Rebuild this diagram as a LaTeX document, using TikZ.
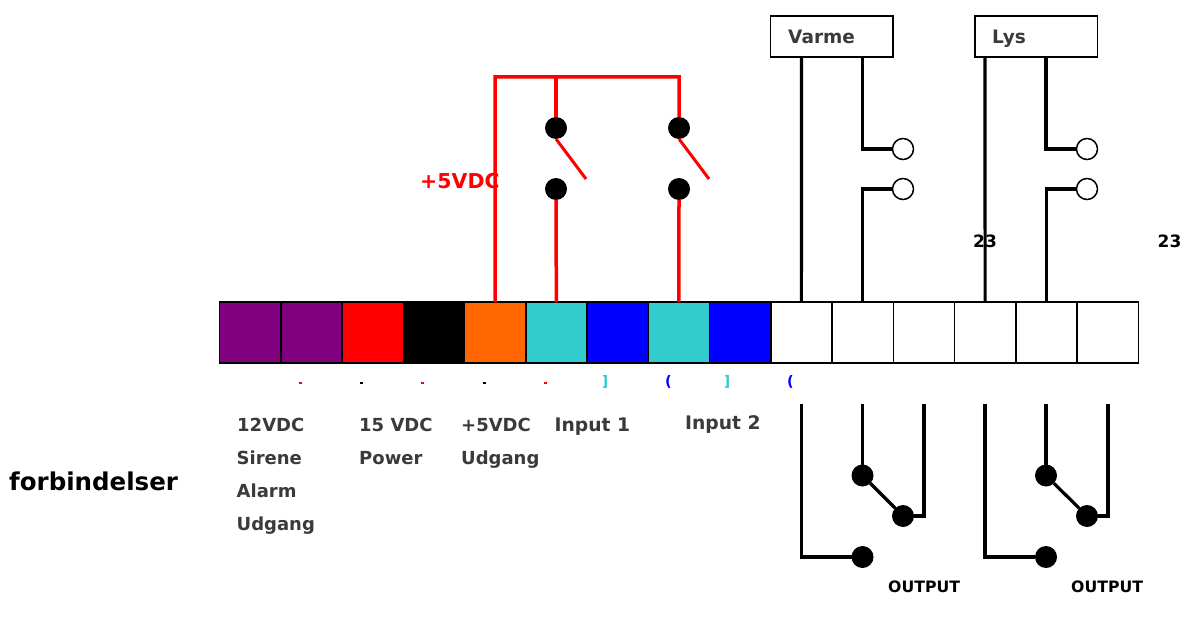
\documentclass[tikz,border=0pt]{standalone}
\usepackage{fontspec}
\setmainfont{DejaVu Sans}
\definecolor{cpurple}{HTML}{800080}
\definecolor{cteal}{HTML}{33CCCC}
\definecolor{corange}{HTML}{FF6600}
\definecolor{gtext}{HTML}{3A3A3A}
\tikzset{
  cell/.style={draw=black,line width=1.5pt,minimum width=61.25pt,minimum height=61pt,inner sep=0pt,outer sep=0pt,anchor=west},
  lab/.style={anchor=base west,inner sep=0pt,font=\fontsize{18}{18}\selectfont\bfseries,text=gtext},
  blk/.style={anchor=base west,inner sep=0pt,text=black,font=\fontsize{16}{16}\selectfont\bfseries},
  relaybox/.style={draw=black,line width=1.5pt,fill=white,minimum width=122.5pt,minimum height=41pt,inner sep=0pt,outer sep=0pt},
  blackdot/.style={circle,fill=black,minimum size=22pt,inner sep=0pt,outer sep=0pt},
  opendot/.style={circle,draw=black,line width=1.5pt,fill=white,minimum size=21pt,inner sep=0pt,outer sep=0pt},
  redwire/.style={draw=red,line width=3.5pt,line join=miter},
  blackwire/.style={draw=black,line width=3.2pt,line join=miter},
  tick/.style={anchor=center,inner sep=0pt,font=\fontsize{14.5}{14.5}\selectfont\bfseries}
}
\begin{document}
\begin{tikzpicture}[x=1pt,y=-1pt]
\useasboundingbox (0,0) rectangle (1194,623);
% terminal strip
\foreach \n/\c [count=\i from 0] in {c1/cpurple,c2/cpurple,c3/red,c4/black,c5/corange,c6/cteal,c7/blue,c8/cteal,c9/blue,c10/white,c11/white,c12/white,c13/white,c14/white,c15/white}
  \node[cell,fill=\c] (\n) at ({219.5+61.25*\i},332.5) {};
% relay boxes
\node[relaybox] (varme) at (831.75,36.5) {};
\node[relaybox] (lys) at (1036,36.75) {};
\node[lab,font=\fontsize{18.5}{18.5}\selectfont\bfseries] (tv) at (788,44) {Varme};
\node[lab,font=\fontsize{18.5}{18.5}\selectfont\bfseries] (tl) at (992,44) {Lys};
% coordinates
\coordinate (top) at (495,77);
\coordinate (topa) at (556,77);
\coordinate (topb) at (679,77);
\coordinate (arma) at (586,179);
\coordinate (armb) at (709,179);
\coordinate (w10) at (801.5,404);
\coordinate (w11) at (862.5,404);
\coordinate (w12) at (924,404);
\coordinate (w13) at (985,404);
\coordinate (w14) at (1046,404);
\coordinate (w15) at (1108,404);
% dots
\node[blackdot] (ra1) at (556,128) {};
\node[blackdot] (ra2) at (556,189) {};
\node[blackdot] (rb1) at (679,128) {};
\node[blackdot] (rb2) at (679,189) {};
\node[blackdot] (v1) at (862.5,475.5) {};
\node[blackdot] (v2) at (903,516) {};
\node[blackdot] (v3) at (862.5,557) {};
\node[blackdot] (l1) at (1046,475.5) {};
\node[blackdot] (l2) at (1087,516) {};
\node[blackdot] (l3) at (1046,557) {};
% red wires
\draw[redwire] (c5.north) -- (top) -- (topb) -- (rb1.north);
\draw[redwire] (topa) -- (ra1.north);
\draw[redwire] (ra2.south) -- (c6.north);
\draw[redwire] (rb2.south) -- (c8.north);
\draw[draw=red,line width=3pt] (ra1.south) -- (arma);
\draw[draw=red,line width=3pt] (rb1.south) -- (armb);
% relay wires
\draw[blackwire] (801.5,57) -- (c10.north);
\draw[blackwire] (985,57) -- (c13.north);
\node[opendot] (ov1) at (903,149) {};
\node[opendot] (ov2) at (903,189) {};
\node[opendot] (ol1) at (1087,149) {};
\node[opendot] (ol2) at (1087,189) {};
\draw[blackwire] (862.5,57) |- (ov1.west);
\draw[blackwire] (c11.north) |- (ov2.west);
\draw[blackwire] (1046,57) |- (ol1.west);
\draw[blackwire] (c14.north) |- (ol2.west);
% lower contacts
\draw[blackwire] (w10) |- (v3.west);
\draw[blackwire] (w11) -- (v1.north);
\draw[blackwire] (v1) -- (v2);
\draw[blackwire] (w12) |- (v2.east);
\draw[blackwire] (w13) |- (l3.west);
\draw[blackwire] (w14) -- (l1.north);
\draw[blackwire] (l1) -- (l2);
\draw[blackwire] (w15) |- (l2.east);
% labels
\node[lab] (a1) at (237,431) {12VDC};
\node[lab] (a2) at (236.5,464) {Sirene};
\node[lab] (a3) at (236.5,497) {Alarm};
\node[lab] (a4) at (236.5,530) {Udgang};
\node[lab] (b1) at (359,431) {15 VDC};
\node[lab] (b2) at (359,464) {Power};
\node[lab] (d1) at (461,431) {+5VDC};
\node[lab] (d2) at (461,464) {Udgang};
\node[lab,font=\fontsize{18.7}{18.7}\selectfont\bfseries] (e1) at (554.5,431) {Input 1};
\node[lab,font=\fontsize{18.7}{18.7}\selectfont\bfseries] (e2) at (685,429) {Input 2};
\node[anchor=base west,inner sep=0pt,text=black,font=\fontsize{24.5}{24.5}\selectfont\bfseries] (f) at (9,490) {forbindelser};
\node[anchor=base west,inner sep=0pt,text=red,font=\fontsize{20.5}{20.5}\selectfont\bfseries] (p) at (420,188.5) {+5VDC};
\node[blk,font=\fontsize{15.7}{15.7}\selectfont\bfseries] (o1) at (888,592) {OUTPUT};
\node[blk,font=\fontsize{15.7}{15.7}\selectfont\bfseries] (o2) at (1071,592) {OUTPUT};
\node[blk,font=\fontsize{17}{17}\selectfont\bfseries] (n1) at (973,247) {23};
\begin{scope}
\clip (1140,230) rectangle (1180,255);
\node[blk,font=\fontsize{17}{17}\selectfont\bfseries] (n2) at (1157.5,247) {23};
\end{scope}
% tiny clipped marks
\foreach \x/\c/\t in {300/red/t1,361/black/t2,422/red/t3,484/black/t4,545/red/t5}
  \fill[\c] (\x-1.5,381.5) rectangle (\x+1.5,384);
\begin{scope}
\clip (603,375) rectangle (608,389);
\node[tick,text=cteal] (k1) at (605,382) {]};
\end{scope}
\begin{scope}
\clip (665,375) rectangle (670,389);
\node[tick,text=blue] (k2) at (668.5,382) {(};
\end{scope}
\begin{scope}
\clip (725,375) rectangle (730,389);
\node[tick,text=cteal] (k3) at (727,382) {]};
\end{scope}
\begin{scope}
\clip (787,375) rectangle (792,389);
\node[tick,text=blue] (k4) at (790.5,382) {(};
\end{scope}
\end{tikzpicture}
\end{document}
